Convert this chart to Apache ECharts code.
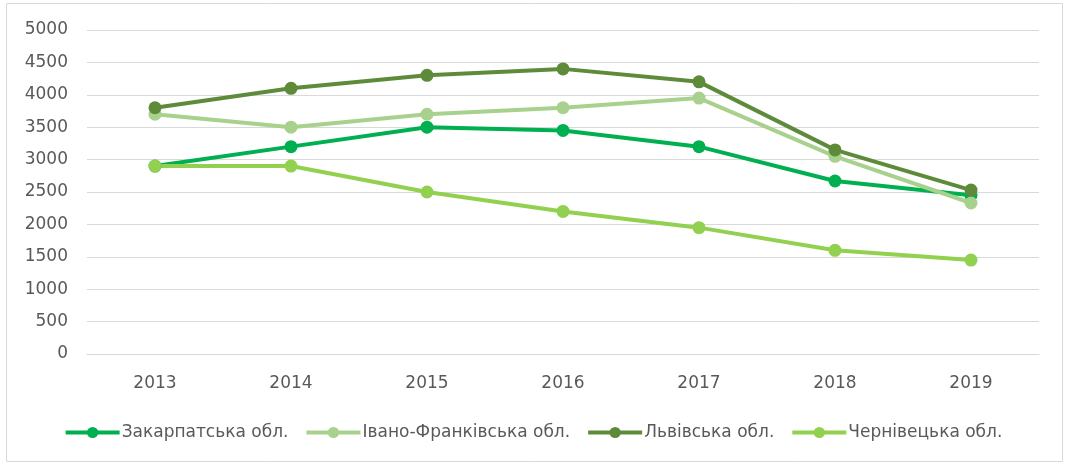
<!DOCTYPE html>
<html>
<head>
<meta charset="utf-8">
<script src="https://cdn.jsdelivr.net/npm/echarts@6/dist/echarts.min.js"></script>
<style>
html,body{margin:0;padding:0;background:#fff;}
#c{width:1066px;height:465px;}
</style>
</head>
<body>
<div id="c"></div>
<script>
const categories = ['2013','2014','2015','2016','2017','2018','2019'];
const seriesNames = ['Закарпатська обл.','Івано-Франківська обл.','Львівська обл.','Чернівецька обл.'];
const zakarpatska = [2900, 3200, 3500, 3450, 3200, 2670, 2450];
const ivanoFrankivska = [3700, 3500, 3700, 3800, 3950, 3050, 2330];
const lvivska = [3800, 4100, 4300, 4400, 4200, 3150, 2530];
const chernivetska = [2900, 2900, 2500, 2200, 1950, 1600, 1450];
const colors = ['#00B050', '#A9D18E', '#5E8B3A', '#92D050'];

const dataSets = [zakarpatska, ivanoFrankivska, lvivska, chernivetska];
const font = '"DejaVu Sans", sans-serif';
const chart = echarts.init(document.getElementById('c'));
chart.setOption({
  animation: false,
  backgroundColor: '#fff',
  color: colors,
  graphic: [{
    type: 'rect', shape: {x: 6.5, y: 3.5, width: 1056, height: 458},
    style: {fill: 'none', stroke: '#d9d9d9', lineWidth: 1}, z: -1
  }],
  grid: {left: 87, right: 27, top: 30, bottom: 111},
  legend: {
    bottom: 19, left: 'center',
    itemWidth: 54, itemHeight: 14, itemGap: 16,
    lineStyle: {width: 4},
    textStyle: {color: '#595959', fontSize: 17, fontFamily: font, padding: [0,0,0,-3]},
    data: seriesNames
  },
  xAxis: {
    type: 'category', data: categories, boundaryGap: true,
    axisLine: {show: true, lineStyle: {color: '#d9d9d9'}},
    axisTick: {show: false},
    axisLabel: {color: '#595959', fontSize: 17, fontFamily: font, margin: 21}
  },
  yAxis: {
    type: 'value', min: 0, max: 5000, interval: 500,
    axisLine: {show: false}, axisTick: {show: false},
    splitLine: {lineStyle: {color: '#d9d9d9', width: 1}},
    axisLabel: {color: '#595959', fontSize: 17, fontFamily: font, margin: 19, formatter: v => String(v)}
  },
  series: dataSets.map((d, i) => ({
    name: seriesNames[i], type: 'line', data: d,
    symbol: 'circle', symbolSize: 13,
    lineStyle: {width: 4, color: colors[i]},
    itemStyle: {color: colors[i]}
  }))
});
</script>
</body>
</html>
